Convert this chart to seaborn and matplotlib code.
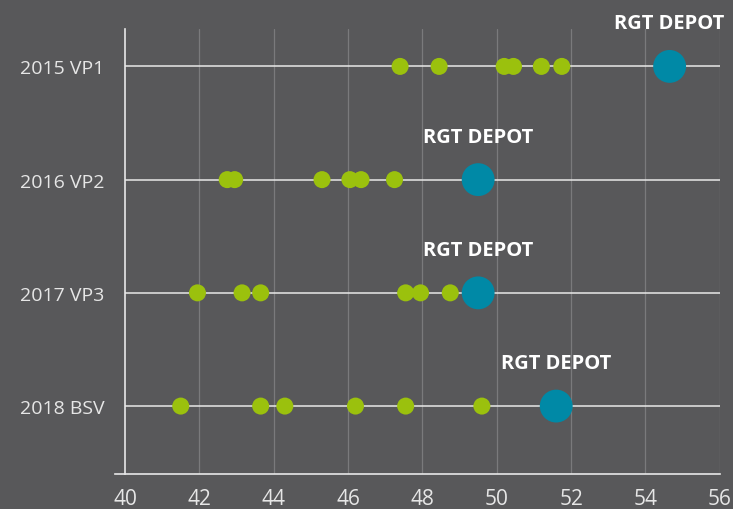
import numpy as np
import pandas as pd
import matplotlib.pyplot as plt
import seaborn as sns

# Rows (top to bottom)
categories = ["2015 VP1", "2016 VP2", "2017 VP3", "2018 BSV"]

# Other points per row
others_2015 = [47.4, 48.45, 50.2, 50.45, 51.2, 51.75]
others_2016 = [42.75, 42.95, 45.3, 46.05, 46.35, 47.25]
others_2017 = [41.95, 43.15, 43.65, 47.55, 47.95, 48.75]
others_2018 = [41.5, 43.65, 44.3, 46.2, 47.55, 49.6]

# RGT DEPOT value per row
depot_values = [54.65, 49.5, 49.5, 51.6]
depot_label = "RGT DEPOT"

xticks = [40, 42, 44, 46, 48, 50, 52, 54, 56]

bg = "#58585a"
green = "#9bc10d"
blue = "#0089a6"
txt = "#e6e6e6"

others = [others_2015, others_2016, others_2017, others_2018]
df_others = pd.DataFrame({
    "row": [c for c, vals in zip(categories, others) for _ in vals],
    "value": [v for vals in others for v in vals],
})
df_depot = pd.DataFrame({"row": categories, "value": depot_values})

sns.set_style("dark", {"axes.facecolor": bg, "figure.facecolor": bg})
plt.rcParams["font.family"] = ["Open Sans", "DejaVu Sans"]

fig = plt.figure(figsize=(7.33, 5.10), dpi=100)
ax = fig.add_axes([0.1705, 0.0686, 0.8115, 0.8725])

ypos = {c: i for i, c in enumerate(categories)}
df_others["y"] = df_others["row"].map(ypos)
df_depot["y"] = df_depot["row"].map(ypos)

# vertical grid
for x in xticks[1:]:
    ax.axvline(x, color="#7a7a7c", lw=0.9, zorder=0)
# row lines
for i in range(len(categories)):
    ax.axhline(i, color="#e8e8e8", lw=1.1, zorder=1)

sns.scatterplot(data=df_others, x="value", y="y", color=green, s=150,
                edgecolor="none", ax=ax, zorder=3)
sns.scatterplot(data=df_depot, x="value", y="y", color=blue, s=560,
                edgecolor="none", ax=ax, zorder=4)

for v, y in zip(depot_values, df_depot["y"]):
    ax.text(v, y - 0.38, depot_label, ha="center", va="center",
            color="white", fontsize=14.5, fontweight="bold")

ax.set_xlim(40, 56)
ax.set_ylim(3.6, -0.33)
ax.set_xticks(xticks)
ax.set_yticks(range(len(categories)))
ax.set_yticklabels(categories)
ax.set_xlabel("")
ax.set_ylabel("")
ax.tick_params(axis="x", colors=txt, labelsize=15, length=0, pad=10)
ax.tick_params(axis="y", colors="#e8e8e8", labelcolor=txt, labelsize=14,
               length=10, width=1.1, pad=5)

for side in ["top", "right"]:
    ax.spines[side].set_visible(False)
ax.spines["left"].set_color("#e8e8e8")
ax.spines["left"].set_linewidth(1.2)
ax.spines["bottom"].set_color("#e8e8e8")
ax.spines["bottom"].set_linewidth(1.2)
ax.spines["bottom"].set_bounds(39.73, 56)

fig.savefig("out.png", dpi=100, facecolor=bg)
